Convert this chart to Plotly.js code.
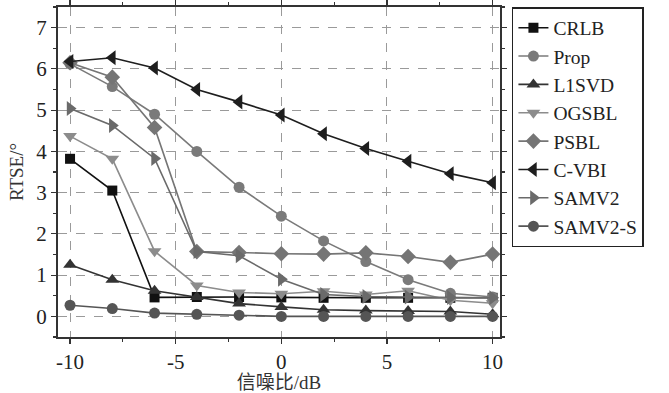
<!DOCTYPE html>
<html>
<head>
<meta charset="utf-8">
<script src="https://cdn.plot.ly/plotly-3.0.1.min.js"></script>
<style>html,body{margin:0;padding:0;background:#fff;}#chart{width:669px;height:393px;}</style>
</head>
<body>
<div id="chart"></div>
<script>
const snr = [-10, -8, -6, -4, -2, 0, 2, 4, 6, 8, 10];
const seriesNames = ["CRLB", "Prop", "L1SVD", "OGSBL", "PSBL", "C-VBI", "SAMV2", "SAMV2-S"];
const crlb   = [3.82, 3.05, 0.46, 0.47, 0.47, 0.46, 0.45, 0.45, 0.45, 0.45, 0.45];
const prop   = [6.12, 5.57, 4.90, 4.00, 3.13, 2.43, 1.83, 1.33, 0.89, 0.56, 0.47];
const l1svd  = [1.25, 0.89, 0.62, 0.47, 0.31, 0.23, 0.16, 0.14, 0.13, 0.12, 0.05];
const ogsbl  = [4.37, 3.82, 1.58, 0.75, 0.58, 0.55, 0.61, 0.53, 0.62, 0.39, 0.32];
const psbl   = [6.15, 5.80, 4.58, 1.57, 1.55, 1.52, 1.51, 1.54, 1.45, 1.31, 1.51];
const cvbi   = [6.18, 6.27, 6.02, 5.50, 5.20, 4.88, 4.43, 4.07, 3.76, 3.46, 3.24];
const samv2  = [5.04, 4.63, 3.83, 1.57, 1.47, 0.90, 0.53, 0.48, 0.47, 0.46, 0.45];
const samv2s = [0.27, 0.19, 0.08, 0.05, 0.03, 0.00, 0.00, 0.00, 0.00, 0.00, 0.00];
const xTicks = [-10, -5, 0, 5, 10];
const yTicks = [0, 1, 2, 3, 4, 5, 6, 7];

const values = [crlb, prop, l1svd, ogsbl, psbl, cvbi, samv2, samv2s];
const colors = ["#111111", "#7a7a7a", "#333333", "#8c8c8c", "#757575", "#1e1e1e", "#6a6a6a", "#555555"];
const symbols = ["square", "circle", "triangle-up", "triangle-down", "diamond", "triangle-left", "triangle-right", "circle"];
const sizes = [10, 11, 12, 12, 12, 13, 13, 11];

const traces = seriesNames.map((n, i) => ({
  x: snr, y: values[i], name: n, type: "scatter", mode: "lines+markers",
  line: {color: colors[i], width: 1.6},
  marker: {color: colors[i], symbol: symbols[i], size: sizes[i]}
}));

const serif = "Liberation Serif, Times New Roman, serif";
const layout = {
  width: 669, height: 393,
  margin: {l: 58, r: 169, t: 7, b: 56},
  paper_bgcolor: "#fff", plot_bgcolor: "#fff",
  showlegend: true,
  legend: {
    x: 1.027, xanchor: "left", y: 1, yanchor: "top",
    bordercolor: "#222", borderwidth: 1.5,
    font: {family: serif, size: 19.5, color: "#222"},
    tracegroupgap: 0, itemwidth: 30, entrywidth: 148
  },
  xaxis: {
    range: [-10.57, 10.35], tickvals: xTicks, ticktext: xTicks.map(String),
    ticks: "outside", ticklen: 5, tickwidth: 1.2, tickcolor: "#333",
    minor: {dtick: 2.5, tick0: 0, ticks: "outside", ticklen: 3, tickcolor: "#333", showgrid: false},
    showline: true, linecolor: "#333", linewidth: 2, mirror: "ticks",
    showgrid: true, gridcolor: "#9a9a9a", griddash: "dash", gridwidth: 1,
    zeroline: false,
    tickfont: {family: serif, size: 21, color: "#222"},
    title: {text: "信噪比/dB", font: {family: "Liberation Serif, Noto Sans CJK SC, serif", size: 19, color: "#333"}, standoff: 4}
  },
  yaxis: {
    range: [-0.5, 7.5], tickvals: yTicks, ticktext: yTicks.map(String),
    ticks: "outside", ticklen: 5, tickwidth: 1.2, tickcolor: "#333",
    minor: {dtick: 0.5, tick0: 0, ticks: "outside", ticklen: 3, tickcolor: "#333", showgrid: false},
    showline: true, linecolor: "#333", linewidth: 2, mirror: "ticks",
    showgrid: true, gridcolor: "#9a9a9a", griddash: "dash", gridwidth: 1,
    zeroline: false,
    tickfont: {family: serif, size: 21, color: "#222"},
    title: {text: "RTSE/°", font: {family: serif, size: 19, color: "#333"}, standoff: 8}
  }
};
Plotly.newPlot("chart", traces, layout, {displayModeBar: false, staticPlot: true});
</script>
</body>
</html>
